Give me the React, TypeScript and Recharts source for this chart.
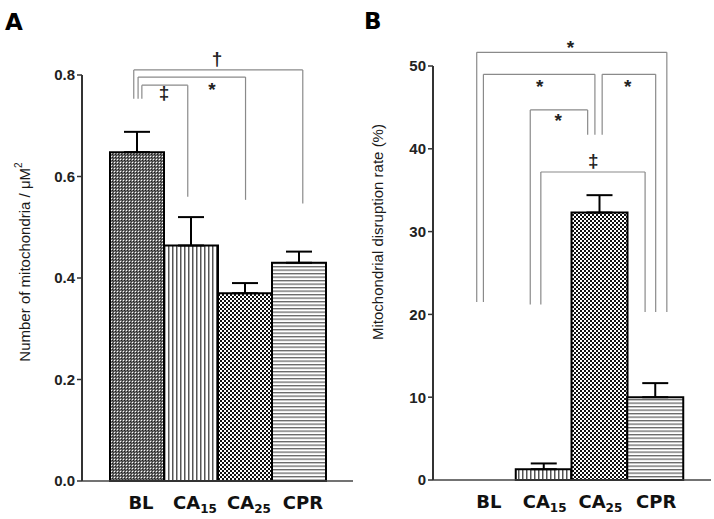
import { BarChart, Bar, Cell, XAxis, YAxis, ErrorBar, ReferenceLine, ReferenceDot } from 'recharts';

// groups on the x axis (name + subscript)
const groupBase = ['BL', 'CA', 'CA', 'CPR'];
const groupSub = ['', '15', '25', ''];
const groups = groupBase.map((b, i) => b + groupSub[i]);
const groupFills = ['url(#patBL)', 'url(#patCA15)', 'url(#patCA25)', 'url(#patCPR)'];

// panel A: number of mitochondria / um^2 (mean, upper SE)
const mitoDensity = [0.648, 0.464, 0.37, 0.43];
const mitoDensityErr = [0.04, 0.056, 0.02, 0.022];
const densityTicks = [0, 0.2, 0.4, 0.6, 0.8];

// panel B: mitochondrial disruption rate (%)
const disruptionRate = [0, 1.3, 32.3, 10.0];
const disruptionRateErr = [0, 0.7, 2.1, 1.7];
const rateTicks = [0, 10, 20, 30, 40, 50];

// significance brackets, x in group index units, y in data units
type Bracket = { from: number; to: number; top: number; footL: number; footR: number; mark: string; markX: number; markY: number };

const densityBrackets: Bracket[] = [
  { from: -0.06, to: 3.07, top: 0.81, footL: 0.753, footR: 0.547, mark: '†', markX: 1.48, markY: 0.831 },
  { from: 0.02, to: 2.01, top: 0.796, footL: 0.753, footR: 0.554, mark: '*', markX: 1.39, markY: 0.778 },
  { from: 0.09, to: 0.94, top: 0.78, footL: 0.753, footR: 0.56, mark: '‡', markX: 0.5, markY: 0.764 },
];

const rateBrackets: Bracket[] = [
  { from: -0.2, to: 3.21, top: 51.65, footL: 21.5, footR: 20.3, mark: '*', markX: 1.48, markY: 52.7 },
  { from: -0.08, to: 1.92, top: 49.0, footL: 21.5, footR: 41.7, mark: '*', markX: 0.93, markY: 47.9 },
  { from: 2.05, to: 3.01, top: 49.0, footL: 41.7, footR: 20.3, mark: '*', markX: 2.51, markY: 47.9 },
  { from: 0.76, to: 1.79, top: 44.7, footL: 21.2, footR: 41.7, mark: '*', markX: 1.26, markY: 43.8 },
  { from: 0.95, to: 2.82, top: 37.2, footL: 21.2, footR: 20.3, mark: '‡', markX: 1.89, markY: 38.5 },
];

const BRACKET = '#8a8a8a';
const AXIS = '#333';

function GroupTick(props: any) {
  const { x, y, payload, shift } = props;
  const i = groups.indexOf(payload.value);
  return (
    <text x={x + shift} y={y + 20} textAnchor="middle" fontFamily="DejaVu Sans" fontWeight="bold" fontSize={18} fill="#111">
      {groupBase[i]}
      {groupSub[i] && (
        <tspan fontSize={12} dy={4}>
          {groupSub[i]}
        </tspan>
      )}
    </text>
  );
}

function bracketLines(list: Bracket[], key: string) {
  const out: any[] = [];
  list.forEach((b, i) => {
    const segs = [
      [{ x: b.from, y: b.footL }, { x: b.from, y: b.top }],
      [{ x: b.from, y: b.top }, { x: b.to, y: b.top }],
      [{ x: b.to, y: b.top }, { x: b.to, y: b.footR }],
    ];
    segs.forEach((s, j) => {
      out.push(
        <ReferenceLine key={`${key}-${i}-${j}`} xAxisId="n" segment={s} stroke={BRACKET} strokeWidth={1.2} ifOverflow="visible" />,
      );
    });
    out.push(
      <ReferenceDot
        key={`${key}-m-${i}`}
        xAxisId="n"
        x={b.markX}
        y={b.markY}
        ifOverflow="visible"
        shape={(p: any) => (
          <text x={p.cx} y={p.cy} dy={b.mark === '*' ? 10 : 6} textAnchor="middle" fontFamily="Liberation Sans" fontWeight="bold" fontSize={19} fill="#222">
            {b.mark}
          </text>
        )}
      />,
    );
  });
  return out;
}

interface PanelProps {
  values: number[];
  errors: number[];
  ticks: number[];
  brackets: Bracket[];
  yAxisWidth: number;
  marginTop: number;
  marginRight: number;
  xAxisHeight: number;
  padLeft: number;
  padRight: number;
  tickShift: number;
  fmt: (v: number) => string;
  title: React.ReactNode;
  titleX: number;
  titleY: number;
  id: string;
}

function Panel(p: PanelProps) {
  const data = groups.map((g, i) => ({ g, idx: i, v: p.values[i], err: [0, p.errors[i]] }));
  const top = p.ticks[p.ticks.length - 1];
  return (
    <BarChart
      width={360}
      height={519}
      data={data}
      margin={{ top: p.marginTop, right: p.marginRight, bottom: 0, left: 0 }}
      barCategoryGap={0}
    >
      <XAxis
        dataKey="g"
        height={p.xAxisHeight}
        padding={{ left: p.padLeft, right: p.padRight }}
        axisLine={{ stroke: '#444', strokeWidth: 1.5 }}
        tickLine={false}
        interval={0}
        tick={<GroupTick shift={p.tickShift} />}
      />
      <XAxis
        xAxisId="n"
        dataKey="idx"
        type="number"
        domain={[-0.5, 3.5]}
        allowDataOverflow
        padding={{ left: p.padLeft, right: p.padRight }}
        hide
      />
      <YAxis
        width={p.yAxisWidth}
        domain={[0, top]}
        ticks={p.ticks}
        interval={0}
        tickFormatter={p.fmt}
        axisLine={{ stroke: AXIS, strokeWidth: 2 }}
        tickLine={{ stroke: AXIS, strokeWidth: 1.5 }}
        tickSize={5}
        tick={{ fontFamily: 'Liberation Sans', fontWeight: 'bold', fontSize: 15, fill: '#222' }}
        label={{
          content: () => (
            <text
              x={p.titleX}
              y={p.titleY}
              transform={`rotate(-90 ${p.titleX} ${p.titleY})`}
              textAnchor="middle"
              dominantBaseline="central"
              fontFamily="Liberation Sans"
              fontSize={15}
              fill="#1a1a1a"
            >
              {p.title}
            </text>
          ),
        }}
      />
      <Bar dataKey="v" isAnimationActive={false} stroke="#000" strokeWidth={2}>
        {data.map((d, i) => (
          <Cell key={d.g} fill={groupFills[i]} />
        ))}
        <ErrorBar dataKey="err" direction="y" width={13} stroke="#000" strokeWidth={2} />
      </Bar>
      {bracketLines(p.brackets, p.id)}
    </BarChart>
  );
}

export default function App() {
  return (
    <div style={{ position: 'absolute', left: 0, top: 0, width: 714, height: 519, background: '#fff' }}>
      <svg width={0} height={0} style={{ position: 'absolute' }}>
        <defs>
          <pattern id="patBL" width={3} height={3} patternUnits="userSpaceOnUse">
            <rect width={3} height={3} fill="#707070" />
            <rect x={0} y={0} width={1} height={1} fill="#fff" />
            <rect x={1} y={1} width={1} height={1} fill="#1a1a1a" />
            <rect x={2} y={2} width={1} height={1} fill="#333" />
          </pattern>
          <pattern id="patCA15" width={4} height={4} patternUnits="userSpaceOnUse">
            <rect width={4} height={4} fill="#fff" />
            <rect x={0} y={0} width={1.5} height={4} fill="#555" />
          </pattern>
          <pattern id="patCA25" width={4} height={4} patternUnits="userSpaceOnUse">
            <rect width={4} height={4} fill="#fff" />
            <rect x={0} y={0} width={2} height={2} fill="#111" />
            <rect x={2} y={2} width={2} height={2} fill="#111" />
          </pattern>
          <pattern id="patCPR" width={4} height={3.5} patternUnits="userSpaceOnUse">
            <rect width={4} height={3.5} fill="#fff" />
            <rect x={0} y={0} width={4} height={1.3} fill="#666" />
          </pattern>
        </defs>
      </svg>
      <div style={{ position: 'absolute', left: 0, top: 0 }}>
        <Panel
          id="a"
          values={mitoDensity}
          errors={mitoDensityErr}
          ticks={densityTicks}
          brackets={densityBrackets}
          yAxisWidth={82}
          marginTop={75}
          marginRight={7}
          xAxisHeight={38}
          padLeft={28}
          padRight={27}
          tickShift={4}
          fmt={(v) => v.toFixed(1)}
          title={
            <>
              Number of mitochondria / μM
              <tspan fontSize={10} dy={-6}>
                2
              </tspan>
            </>
          }
          titleX={24}
          titleY={262}
        />
        <div style={{ position: 'absolute', left: 5, top: 32 - 23 * 0.93, fontFamily: 'DejaVu Sans', fontWeight: 'bold', fontSize: 23, lineHeight: 1 }}>
          A
        </div>
      </div>
      <div style={{ position: 'absolute', left: 354, top: 0 }}>
        <Panel
          id="b"
          values={disruptionRate}
          errors={disruptionRateErr}
          ticks={rateTicks}
          brackets={rateBrackets}
          yAxisWidth={79}
          marginTop={66}
          marginRight={3}
          xAxisHeight={39}
          padLeft={27}
          padRight={28}
          tickShift={1}
          fmt={(v) => String(v)}
          title="Mitochondrial disruption rate (%)"
          titleX={23}
          titleY={232}
        />
        <div style={{ position: 'absolute', left: 10, top: 31 - 23 * 0.93, fontFamily: 'DejaVu Sans', fontWeight: 'bold', fontSize: 23, lineHeight: 1 }}>
          B
        </div>
      </div>
    </div>
  );
}
